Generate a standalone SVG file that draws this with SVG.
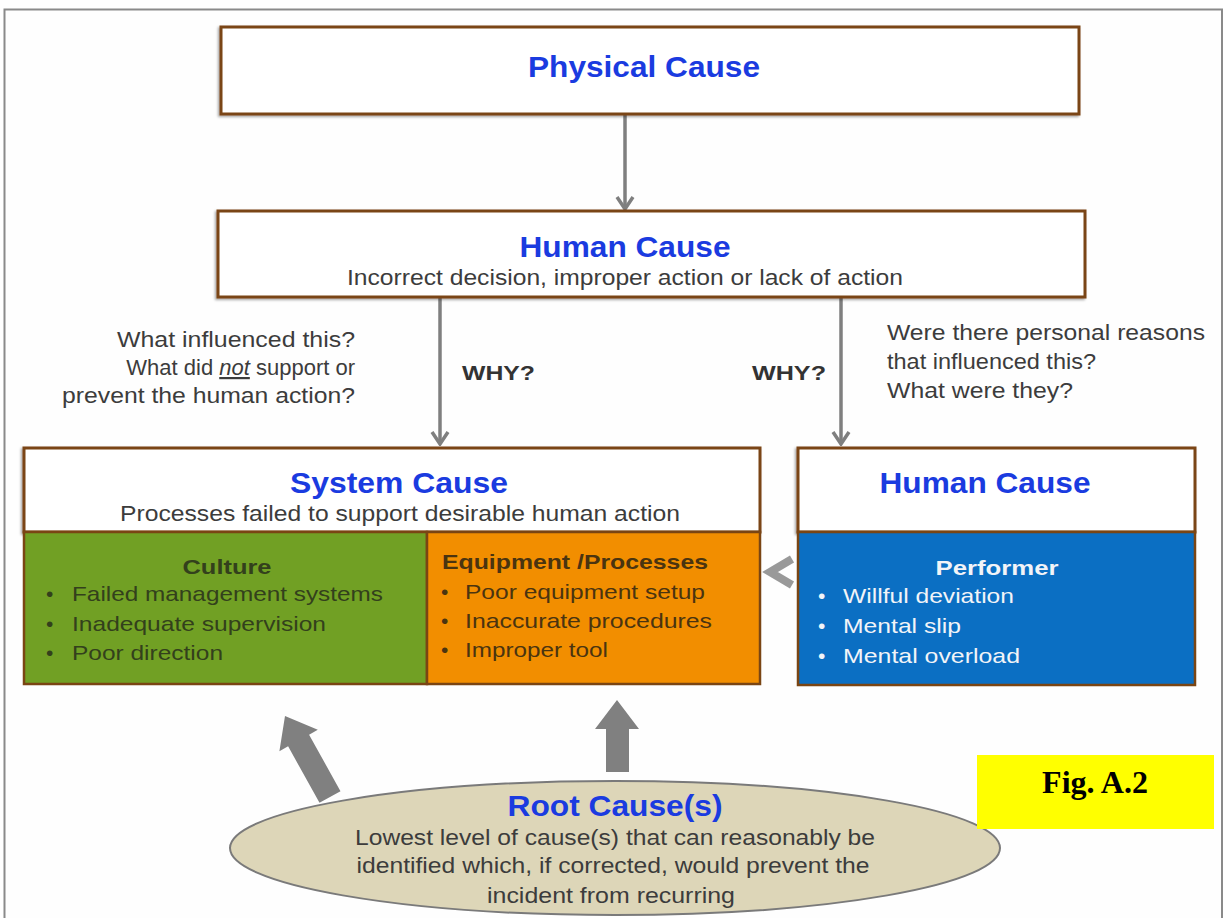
<svg xmlns="http://www.w3.org/2000/svg" width="1225" height="918" viewBox="0 0 1225 918">
  <defs>
    <style>
      .box { fill: #ffffff; stroke: #7a4513; stroke-width: 3; }
      .cell { stroke: #7a4513; stroke-width: 2.5; }
      .title { font-family: "Liberation Sans", Arial, sans-serif; font-weight: bold; fill: #1a3be0; font-size: 30px; text-anchor: middle; }
      .sub { font-family: "Liberation Sans", Arial, sans-serif; fill: #3c3c3c; font-size: 22px; }
      .mid { text-anchor: middle; }
      .end { text-anchor: end; }
      .why { font-family: "Liberation Sans", Arial, sans-serif; font-weight: bold; fill: #333333; font-size: 20px; }
      .head { font-family: "Liberation Sans", Arial, sans-serif; font-weight: bold; font-size: 21px; }
      .item { font-family: "Liberation Sans", Arial, sans-serif; font-size: 21px; }
      .dark { fill: #33401c; }
      .brown { fill: #4a3410; }
      .light { fill: #f2f4f8; }
      .conn { stroke: #7f7f7f; stroke-width: 3.5; fill: none; }
      .block { fill: #808080; }
    </style>
    <!-- open chevron head, drawn along the +x direction of the line -->
    <marker id="chev" viewBox="0 0 20 20" refX="18" refY="10" markerWidth="20" markerHeight="20" markerUnits="userSpaceOnUse" orient="auto">
      <polyline points="6,2 18,10 6,18" fill="none" stroke="#7f7f7f" stroke-width="3.5" stroke-linejoin="miter"/>
    </marker>
    <filter id="shadow" x="-5%" y="-10%" width="110%" height="120%">
      <feDropShadow dx="-1.5" dy="1.5" stdDeviation="1.2" flood-color="#000" flood-opacity="0.35"/>
    </filter>
  </defs>

  <!-- page background and frame -->
  <rect x="0" y="0" width="1225" height="918" fill="#ffffff"/>
  <rect x="4.5" y="9.5" width="1217.5" height="920" fill="#fefefe" stroke="#8a8a8a" stroke-width="2"/>

  <!-- connectors -->
  <g id="connectors">
    <line class="conn" x1="625" y1="115" x2="625" y2="209" marker-end="url(#chev)"/>
    <line class="conn" x1="440" y1="298" x2="440" y2="444" marker-end="url(#chev)"/>
    <line class="conn" x1="841" y1="298" x2="841" y2="444" marker-end="url(#chev)"/>
    <!-- short thick chevron from performer into equipment -->
    <polyline points="792,559 770,572 792,585" fill="none" stroke="#808080" stroke-width="8" stroke-linejoin="miter" opacity="0.8"/>
    <!-- block arrows rising from the root cause -->
    <polygon class="block" points="606,772 629,772 629,729 639,729 617,700 595,729 606,729"/>
    <polygon class="block" points="340.5,791.2 309.1,734.7 317.8,729.8 285,716 279.4,751.2 288.1,746.3 319.5,802.8"/>
  </g>

  <!-- question labels -->
  <g id="labels">
    <text class="sub end" x="355" y="347" textLength="238" lengthAdjust="spacingAndGlyphs">What influenced this?</text>
    <text class="sub end" x="355" y="375">What did <tspan font-style="italic" text-decoration="underline">not</tspan> support or</text>
    <text class="sub end" x="355" y="403" textLength="293" lengthAdjust="spacingAndGlyphs">prevent the human action?</text>
    <text class="why" x="462" y="380" textLength="73" lengthAdjust="spacingAndGlyphs">WHY?</text>
    <text class="why" x="752" y="380" textLength="74" lengthAdjust="spacingAndGlyphs">WHY?</text>
    <text class="sub" x="887" y="340" textLength="318" lengthAdjust="spacingAndGlyphs">Were there personal reasons</text>
    <text class="sub" x="887" y="369" textLength="209" lengthAdjust="spacingAndGlyphs">that influenced this?</text>
    <text class="sub" x="887" y="398" textLength="186" lengthAdjust="spacingAndGlyphs">What were they?</text>
  </g>

  <!-- physical cause -->
  <g id="physical-cause">
    <rect class="box" x="221" y="27" width="858" height="87" filter="url(#shadow)"/>
    <text class="title" x="644" y="77" textLength="232" lengthAdjust="spacingAndGlyphs">Physical Cause</text>
  </g>

  <!-- human cause (top) -->
  <g id="human-cause-top">
    <rect class="box" x="218" y="211" width="867" height="86" filter="url(#shadow)"/>
    <text class="title" x="625" y="257" textLength="211" lengthAdjust="spacingAndGlyphs">Human Cause</text>
    <text class="sub mid" x="625" y="285" textLength="556" lengthAdjust="spacingAndGlyphs">Incorrect decision, improper action or lack of action</text>
  </g>

  <!-- system cause with culture and equipment cells -->
  <g id="system-cause">
    <rect class="box" x="24" y="448" width="736" height="84" filter="url(#shadow)"/>
    <text class="title" x="399" y="493" textLength="218" lengthAdjust="spacingAndGlyphs">System Cause</text>
    <text class="sub mid" x="400" y="521" textLength="560" lengthAdjust="spacingAndGlyphs">Processes failed to support desirable human action</text>

    <rect class="cell" x="24" y="532" width="403" height="152" fill="#71a024"/>
    <text class="head dark mid" x="227" y="574" textLength="89" lengthAdjust="spacingAndGlyphs">Culture</text>
    <g class="item dark">
      <text x="46" y="601">•</text>
      <text x="72" y="601" textLength="311" lengthAdjust="spacingAndGlyphs">Failed management systems</text>
      <text x="46" y="631">•</text>
      <text x="72" y="631" textLength="254" lengthAdjust="spacingAndGlyphs">Inadequate supervision</text>
      <text x="46" y="660">•</text>
      <text x="72" y="660" textLength="151" lengthAdjust="spacingAndGlyphs">Poor direction</text>
    </g>

    <rect class="cell" x="427" y="532" width="333" height="152" fill="#f28e00"/>
    <text class="head brown" x="442" y="569" textLength="266" lengthAdjust="spacingAndGlyphs">Equipment /Processes</text>
    <g class="item brown">
      <text x="441" y="599">•</text>
      <text x="465" y="599" textLength="240" lengthAdjust="spacingAndGlyphs">Poor equipment setup</text>
      <text x="441" y="628">•</text>
      <text x="465" y="628" textLength="247" lengthAdjust="spacingAndGlyphs">Inaccurate procedures</text>
      <text x="441" y="657">•</text>
      <text x="465" y="657" textLength="143" lengthAdjust="spacingAndGlyphs">Improper tool</text>
    </g>
  </g>

  <!-- human cause (performer) -->
  <g id="human-cause-performer">
    <rect class="box" x="798" y="448" width="397" height="84" filter="url(#shadow)"/>
    <text class="title" x="985" y="493" textLength="211" lengthAdjust="spacingAndGlyphs">Human Cause</text>
    <rect class="cell" x="798" y="532" width="397" height="153" fill="#0b6fc3"/>
    <text class="head light mid" x="997" y="575" textLength="123" lengthAdjust="spacingAndGlyphs">Performer</text>
    <g class="item light">
      <text x="818" y="603">•</text>
      <text x="843" y="603" textLength="171" lengthAdjust="spacingAndGlyphs">Willful deviation</text>
      <text x="818" y="633">•</text>
      <text x="843" y="633" textLength="118" lengthAdjust="spacingAndGlyphs">Mental slip</text>
      <text x="818" y="663">•</text>
      <text x="843" y="663" textLength="177" lengthAdjust="spacingAndGlyphs">Mental overload</text>
    </g>
  </g>

  <!-- root cause -->
  <g id="root-cause">
    <ellipse cx="615" cy="848" rx="385" ry="67" fill="#ddd6b8" stroke="#7a7a7a" stroke-width="2"/>
    <text class="title" x="615" y="816" textLength="215" lengthAdjust="spacingAndGlyphs">Root Cause(s)</text>
    <text class="sub mid" x="615" y="845" textLength="520" lengthAdjust="spacingAndGlyphs">Lowest level of cause(s) that can reasonably be</text>
    <text class="sub mid" x="613" y="873" textLength="513" lengthAdjust="spacingAndGlyphs">identified which, if corrected, would prevent the</text>
    <text class="sub mid" x="611" y="903" textLength="248" lengthAdjust="spacingAndGlyphs">incident from recurring</text>
  </g>

  <!-- figure tag -->
  <g id="fig-label">
    <rect x="977" y="755" width="237" height="74" fill="#ffff00"/>
    <text x="1095" y="793" font-family="'Liberation Serif', 'Times New Roman', serif" font-weight="bold" font-size="32" text-anchor="middle" fill="#000000">Fig. A.2</text>
  </g>
</svg>
